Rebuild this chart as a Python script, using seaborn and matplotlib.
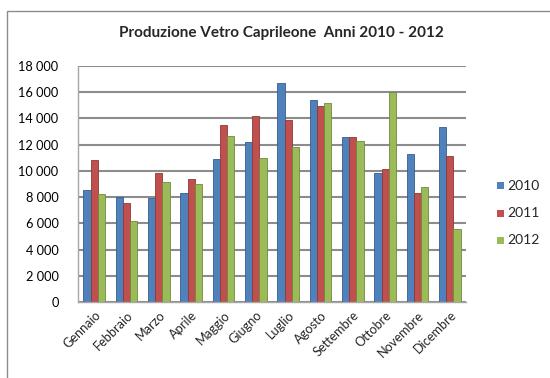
import matplotlib
matplotlib.use("Agg")
import matplotlib.pyplot as plt
from matplotlib.patches import Rectangle
from matplotlib.ticker import FuncFormatter, MultipleLocator
import seaborn as sns
import pandas as pd

mesi = ["Gennaio", "Febbraio", "Marzo", "Aprile", "Maggio", "Giugno",
        "Luglio", "Agosto", "Settembre", "Ottobre", "Novembre", "Dicembre"]
anni = ["2010", "2011", "2012"]
prod_2010 = [8550, 7990, 7960, 8300, 10940, 12190, 16680, 15440, 12620, 9870, 11300, 13360]
prod_2011 = [10840, 7580, 9820, 9410, 13490, 14220, 13890, 14960, 12600, 10130, 8300, 11170]
prod_2012 = [8240, 6210, 9160, 9010, 12650, 10970, 11810, 15140, 12290, 16010, 8800, 5570]
colori = ["#4F81BD", "#C0504D", "#9BBB59"]
bordi = ["#385D8A", "#8C3836", "#71893F"]

df = pd.DataFrame({
    "Mese": mesi * 3,
    "Anno": [a for a in anni for _ in mesi],
    "Produzione": prod_2010 + prod_2011 + prod_2012,
})

sns.set_theme(style="white")
plt.rcParams["font.family"] = ["Lato", "DejaVu Sans"]

fig = plt.figure(figsize=(5.5, 3.78), dpi=100)
ax = fig.add_axes([78 / 550, 1 - 302 / 378, (466 - 78) / 550, (302 - 66) / 378])

sns.barplot(data=df, x="Mese", y="Produzione", hue="Anno", palette=colori,
            width=0.68, ax=ax, legend=False, saturation=1)

for i, cont in enumerate(ax.containers):
    for bar in cont:
        bar.set_edgecolor(bordi[i])
        bar.set_linewidth(0.6)

ax.set_ylim(0, 18000)
ax.set_xlim(-0.5, 11.5)
ax.yaxis.set_major_locator(MultipleLocator(2000))
ax.yaxis.set_major_formatter(FuncFormatter(lambda v, p: f"{int(v):,}".replace(",", " ")))
ax.grid(axis="y", color="#8C8C8C", linewidth=1.5)
ax.set_axisbelow(True)
ax.set_xlabel("")
ax.set_ylabel("")
for s in ["top", "right"]:
    ax.spines[s].set_visible(False)
for s in ["left", "bottom"]:
    ax.spines[s].set_color("#A6A6A6")
    ax.spines[s].set_linewidth(1)
ax.tick_params(axis="y", labelsize=9.2, pad=14, length=0, colors="black")
ax.tick_params(axis="x", labelsize=9.2, length=0, pad=5)
plt.setp(ax.get_xticklabels(), rotation=45, ha="right", rotation_mode="anchor")

fig.text(0.512, 1 - 33 / 378, "Produzione Vetro Caprileone  Anni 2010 - 2012",
         ha="center", va="center", fontsize=11, fontweight="bold")

# legend entries
for i, (anno, col) in enumerate(zip(anni, colori)):
    y = 186 + 27 * i
    fig.patches.append(Rectangle((497 / 550, 1 - (y + 3.5) / 378), 7 / 550, 7 / 378,
                                 transform=fig.transFigure, facecolor=col,
                                 edgecolor="none", figure=fig))
    fig.text(507 / 550, 1 - y / 378, anno, ha="left", va="center", fontsize=10)

# chart area frame
fig.patches.append(Rectangle((7 / 550, -0.1), 1.2, 1 - 11 / 378 + 0.1,
                             transform=fig.transFigure, facecolor="none",
                             edgecolor="#8C8C8C", linewidth=1, figure=fig))

fig.savefig("out.png", dpi=100)
